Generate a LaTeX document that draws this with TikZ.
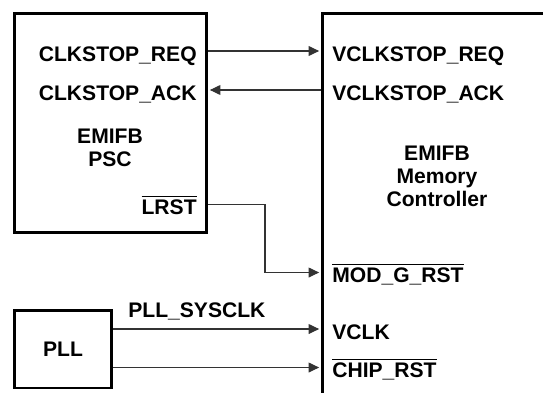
\documentclass[tikz,border=0pt]{standalone}
\usepackage{fontspec}
\setmainfont{Liberation Sans}
\usetikzlibrary{arrows.meta,positioning}

\newcommand{\barsig}[1]{\vbox{\hrule height 0.7pt\kern 1.3pt\hbox{#1}}}

\begin{document}
\begin{tikzpicture}[
  x=0.02cm, y=-0.02cm,
  every node/.style={font=\fontsize{12}{13.1}\selectfont\bfseries},
  block/.style={rectangle, draw=black, line width=1.7pt, inner sep=0pt},
  port/.style={inner sep=0pt},
  title/.style={align=center, inner sep=0pt},
  sig/.style={line width=0.6pt, draw=black!80},
  arrow/.style={sig, -{Triangle[length=6pt,width=5.6pt]}, shorten >=0.8pt}
]
\clip (0,0) rectangle (543,392);

% Blocks
\node[block, minimum width=3.86cm, minimum height=4.4cm] (psc) at (110.5,123) {};
\node[block, minimum width=6cm, minimum height=8cm] (ctrl) at (472,213) {};
\node[block, minimum width=1.96cm, minimum height=1.56cm] (pll) at (63,349) {PLL};

% Titles
\node[title] (psctitle) at (110,147.5) {EMIFB\\PSC};
\node[title] (ctrltitle) at (437,176.5) {EMIFB\\Memory\\Controller};

% Signal rows
\coordinate (reqrow) at (0,51);
\coordinate (ackrow) at (0,90);
\coordinate (lrstrow) at (0,204.5);
\coordinate (modrow) at (0,272.5);
\coordinate (vclkrow) at (0,329);
\coordinate (chiprow) at (0,367.5);
\coordinate (lrstbend) at (265,0);

% Ports
\node[port, anchor=base east] (reqL) at (197,61) {CLKSTOP\_REQ};
\node[port, anchor=base east] (ackL) at (197,100) {CLKSTOP\_ACK};
\node[port, anchor=base east] (lrstL) at (197,214) {\barsig{LRST}};
\node[port, anchor=base west] (reqR) at (332,61) {VCLKSTOP\_REQ};
\node[port, anchor=base west] (ackR) at (332,100) {VCLKSTOP\_ACK};
\node[port, anchor=base west] (modR) at (332,282) {\barsig{MOD\_G\_RST}};
\node[port, anchor=base west] (vclkR) at (332,339) {VCLK};
\node[port, anchor=base west] (chipR) at (332,377) {\barsig{CHIP\_RST}};
\node[port, anchor=base west] (sysclk) at (128,317) {PLL\_SYSCLK};

% Arrows
\draw[arrow] (psc.east |- reqrow) -- (ctrl.west |- reqrow);
\draw[arrow] (ctrl.west |- ackrow) -- (psc.east |- ackrow);
\draw[arrow] (psc.east |- lrstrow) -| (lrstbend |- modrow) -- (ctrl.west |- modrow);
\draw[arrow] (pll.east |- vclkrow) -- (ctrl.west |- vclkrow);
\draw[arrow] (pll.east |- chiprow) -- (ctrl.west |- chiprow);
\end{tikzpicture}
\end{document}
